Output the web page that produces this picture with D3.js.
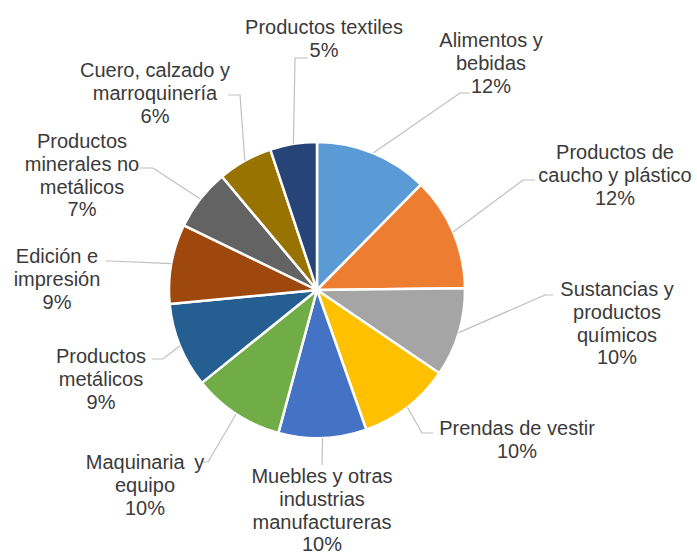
<!DOCTYPE html>
<html>
<head>
<meta charset="utf-8">
<script src="https://cdn.jsdelivr.net/npm/d3@7/dist/d3.min.js"></script>
<style>
  html, body { margin: 0; padding: 0; background: #fff; }
  svg { display: block; }
  text { font-family: "Liberation Sans", Arial, sans-serif; fill: #3a3a3a; }
</style>
</head>
<body>
<svg id="chart" width="697" height="555"></svg>
<script>
// Industry categories (label lines split with \n) and their shares
const categories = [
  "Alimentos y\nbebidas",
  "Productos de\ncaucho y plástico",
  "Sustancias y\nproductos\nquímicos",
  "Prendas de vestir",
  "Muebles y otras\nindustrias\nmanufactureras",
  "Maquinaria\u2009 y\nequipo",
  "Productos\nmetálicos",
  "Edición e\nimpresión",
  "Productos\nminerales no\nmetálicos",
  "Cuero, calzado y\nmarroquinería",
  "Productos textiles"
];
const shares = [0.124, 0.124, 0.097, 0.101, 0.096, 0.100, 0.093, 0.087, 0.067, 0.060, 0.051];

const colors = ["#5B9BD5", "#ED7D31", "#A5A5A5", "#FFC000", "#4472C4", "#70AD47",
                "#255E91", "#9E480E", "#636363", "#997300", "#264478"];

// Label placement: text centre x, first line centre y, leader start and elbow
const labelLayout = [
  { x: 491, y: 40,  sx: 470, sy: 93,  ex: 460, ey: 93 },
  { x: 615, y: 152, sx: 535, sy: 180, ex: 523, ey: 180 },
  { x: 617, y: 289, sx: 553, sy: 295, ex: 545, ey: 295 },
  { x: 517, y: 428, sx: 433, sy: 433, ex: 422, ey: 433 },
  { x: 322, y: 476, sx: 322, sy: 465, ex: 322, ey: 465 },
  { x: 145, y: 462, sx: 203, sy: 462, ex: 208, ey: 462 },
  { x: 101, y: 356, sx: 152, sy: 359, ex: 163, ey: 359 },
  { x: 57,  y: 256, sx: 106, sy: 261, ex: 110, ey: 261 },
  { x: 82,  y: 141, sx: 140, sy: 168, ex: 153, ey: 168 },
  { x: 155, y: 70,  sx: 228, sy: 95,  ex: 240, ey: 95 },
  { x: 324, y: 27,  sx: 308, sy: 58,  ex: 295, ey: 58 }
];

const cx = 317, cy = 290, radius = 148, lineH = 22.8;

const svg = d3.select("#chart");
const g = svg.append("g").attr("transform", `translate(${cx},${cy})`);

const pie = d3.pie().sort(null).value(d => d.value);
const arcs = pie(categories.map((c, i) => ({ name: c, value: shares[i], i })));

const arc = d3.arc().innerRadius(0).outerRadius(radius);
const edgeArc = d3.arc().innerRadius(radius).outerRadius(radius);

g.selectAll("path.slice")
  .data(arcs)
  .join("path")
  .attr("class", "slice")
  .attr("d", arc)
  .attr("fill", d => colors[d.data.i])
  .attr("stroke", "#fff")
  .attr("stroke-width", 2.5)
  .attr("stroke-linejoin", "round");

const pct = d3.format(".0%");

// Leader lines from each label to the middle of its slice edge
svg.selectAll("path.leader")
  .data(arcs)
  .join("path")
  .attr("class", "leader")
  .attr("fill", "none")
  .attr("stroke", "#bfbfbf")
  .attr("stroke-width", 1.2)
  .attr("d", d => {
    const L = labelLayout[d.data.i];
    const [px, py] = edgeArc.centroid(d);
    return d3.line()([[L.sx, L.sy], [L.ex, L.ey], [cx + px, cy + py]]);
  });

// Category labels with percentage on the last line
const labels = svg.selectAll("text.lbl")
  .data(arcs)
  .join("text")
  .attr("class", "lbl")
  .attr("text-anchor", "middle")
  .attr("font-size", 20);

labels.each(function (d) {
  const L = labelLayout[d.data.i];
  const lines = d.data.name.split("\n").concat([pct(d.data.value)]);
  d3.select(this).selectAll("tspan")
    .data(lines)
    .join("tspan")
    .attr("x", L.x)
    .attr("y", (t, k) => L.y + k * lineH)
    .attr("dy", "0.35em")
    .text(t => t);
});
</script>
</body>
</html>
